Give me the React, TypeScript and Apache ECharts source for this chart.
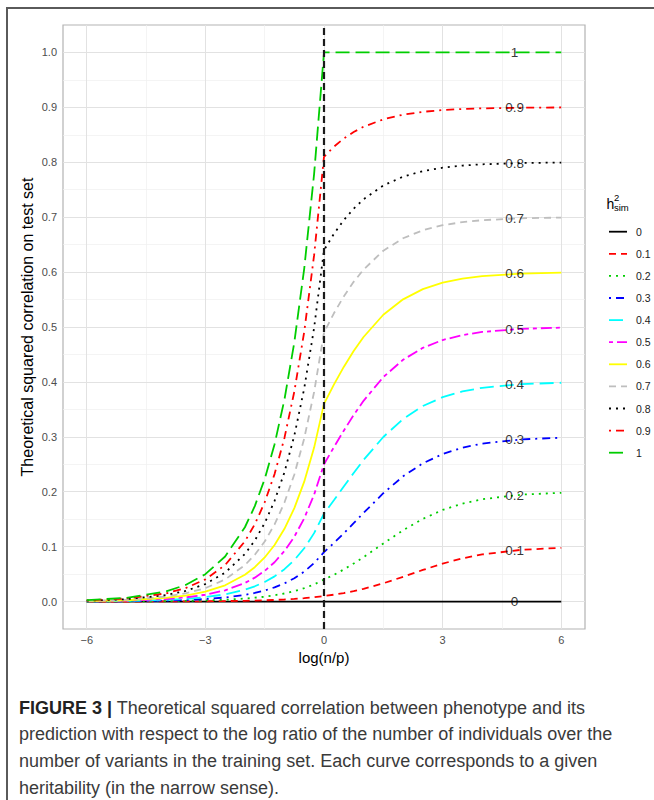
import React, { useEffect, useRef } from "react";
import * as echarts from "echarts";

// ---- data ----
const X = [-6, -5, -4, -3.5, -3, -2.5, -2, -1.75, -1.5, -1.25, -1, -0.75, -0.5, -0.25, 0, 0.25, 0.5, 0.75, 1, 1.5, 2, 2.5, 3, 3.5, 4, 5, 6];

const H00 = [0, 0, 0, 0, 0, 0, 0, 0, 0, 0, 0, 0, 0, 0, 0, 0, 0, 0, 0, 0, 0, 0, 0, 0, 0, 0, 0];
const H01 = [0.00002, 0.00007, 0.0002, 0.0003, 0.0005, 0.0008, 0.0014, 0.0017, 0.0022, 0.0029, 0.0037, 0.0047, 0.0061, 0.0078, 0.01, 0.0125, 0.0155, 0.019, 0.0232, 0.0332, 0.0451, 0.0575, 0.0691, 0.0786, 0.0858, 0.0943, 0.0978];
const H02 = [0.0001, 0.0003, 0.0007, 0.0012, 0.002, 0.0033, 0.0054, 0.007, 0.0089, 0.0115, 0.0147, 0.0189, 0.0243, 0.0312, 0.04, 0.0486, 0.0584, 0.0692, 0.0809, 0.1057, 0.1298, 0.1506, 0.1668, 0.1784, 0.1864, 0.1948, 0.198];
const H03 = [0.0002, 0.0006, 0.0016, 0.0027, 0.0045, 0.0074, 0.0122, 0.0156, 0.0201, 0.0258, 0.0331, 0.0425, 0.0546, 0.0701, 0.09, 0.1065, 0.1242, 0.1427, 0.1614, 0.1973, 0.228, 0.2518, 0.2687, 0.2803, 0.2877, 0.2954, 0.2983];
const H04 = [0.0004, 0.0011, 0.0029, 0.0048, 0.008, 0.0131, 0.0217, 0.0278, 0.0357, 0.0458, 0.0589, 0.0756, 0.097, 0.1246, 0.16, 0.1845, 0.2095, 0.2341, 0.2578, 0.2997, 0.3325, 0.3561, 0.3722, 0.3827, 0.3893, 0.396, 0.3985];
const H05 = [0.0006, 0.0017, 0.0046, 0.0076, 0.0124, 0.0205, 0.0338, 0.0435, 0.0558, 0.0716, 0.092, 0.1181, 0.1516, 0.1947, 0.25, 0.2811, 0.3112, 0.3396, 0.3655, 0.4088, 0.4404, 0.4621, 0.4763, 0.4853, 0.491, 0.4967, 0.4988];
const H06 = [0.0009, 0.0024, 0.0066, 0.0109, 0.0179, 0.0296, 0.0487, 0.0626, 0.0803, 0.1031, 0.1324, 0.1701, 0.2183, 0.2804, 0.36, 0.395, 0.4273, 0.4563, 0.4818, 0.5223, 0.5504, 0.5689, 0.5807, 0.5881, 0.5928, 0.5973, 0.599];
const H07 = [0.0012, 0.0033, 0.009, 0.0148, 0.0244, 0.0402, 0.0663, 0.0852, 0.1093, 0.1404, 0.1803, 0.2315, 0.2972, 0.3816, 0.49, 0.5249, 0.5556, 0.5822, 0.6046, 0.6389, 0.6616, 0.6762, 0.6854, 0.691, 0.6945, 0.698, 0.6993];
const H08 = [0.0016, 0.0043, 0.0117, 0.0193, 0.0319, 0.0525, 0.0866, 0.1112, 0.1428, 0.1834, 0.2354, 0.3023, 0.3882, 0.4984, 0.64, 0.6696, 0.6947, 0.7155, 0.7326, 0.7578, 0.7738, 0.7839, 0.7901, 0.794, 0.7963, 0.7987, 0.7995];
const H09 = [0.002, 0.0055, 0.0148, 0.0245, 0.0403, 0.0665, 0.1096, 0.1408, 0.1807, 0.2321, 0.298, 0.3826, 0.4913, 0.6308, 0.81, 0.8283, 0.8432, 0.8551, 0.8647, 0.8782, 0.8867, 0.8919, 0.8951, 0.897, 0.8982, 0.8993, 0.8998];
const H10 = [0.0025, 0.0067, 0.0183, 0.0302, 0.0498, 0.0821, 0.1353, 0.1738, 0.2231, 0.2865, 0.3679, 0.4724, 0.6065, 0.7788, 1, 1, 1, 1, 1, 1, 1, 1, 1, 1, 1, 1, 1];

const NAMES = ["0", "0.1", "0.2", "0.3", "0.4", "0.5", "0.6", "0.7", "0.8", "0.9", "1"];
const VALUES = [H00, H01, H02, H03, H04, H05, H06, H07, H08, H09, H10];

const LABEL_X = 4.82;
const LABEL_Y = [0, 0.0934, 0.1939, 0.2946, 0.3954, 0.4961, 0.5969, 0.6977, 0.7984, 0.8992, 1];

const X_TICKS = [-6, -3, 0, 3, 6];
const X_MINOR = [-4.5, -1.5, 1.5, 4.5];
const Y_TICKS = [0, 0.1, 0.2, 0.3, 0.4, 0.5, 0.6, 0.7, 0.8, 0.9, 1.0];
const Y_MINOR = [0.05, 0.15, 0.25, 0.35, 0.45, 0.55, 0.65, 0.75, 0.85, 0.95];

const CAPTION = [
  "{b|FIGURE 3 |} Theoretical squared correlation between phenotype and its",
  "prediction with respect to the log ratio of the number of individuals over the",
  "number of variants in the training set. Each curve corresponds to a given",
  "heritability (in the narrow sense).",
];

// ---- styles ----
const COLORS = ["#000000", "#FF0000", "#00CD00", "#0000FF", "#00FFFF", "#FF00FF", "#FFFF00", "#BEBEBE", "#000000", "#FF0000", "#00CD00"];
const SOLID = "solid";
const DASHED = [7, 5];
const DOTTED = [2, 5];
const DOTDASH = [2, 5, 8, 5];
const LONGDASH = [14, 6];
const TWODASH = [4, 4, 11, 4];
const TYPES: any[] = [SOLID, DASHED, DOTTED, DOTDASH, LONGDASH, TWODASH, SOLID, DASHED, DOTTED, DOTDASH, LONGDASH];

const FONT = "'Liberation Sans', Arial, Helvetica, sans-serif";

export default function App() {
  const ref = useRef<HTMLDivElement>(null);

  useEffect(() => {
    document.body.style.margin = "0";
    const chart = echarts.init(ref.current!, null, { renderer: "svg" });

    const curveSeries = NAMES.map((name, k) => ({
      type: "line",
      name,
      data: X.map((x, i) => [x, VALUES[k][i]]),
      symbol: "none",
      showSymbol: false,
      silent: true,
      z: 3,
      lineStyle: { color: COLORS[k], width: 1.8, type: TYPES[k], cap: "butt" },
      itemStyle: { color: COLORS[k] },
      emphasis: { disabled: true },
    }));

    const gridMajor = { color: "#E2E2E2", width: 1, type: "solid" };
    const gridMinor = { color: "#EFEFEF", width: 0.7, type: "solid" };

    const gridSeries = {
      type: "line",
      data: [[0, 0]],
      symbol: "none",
      lineStyle: { opacity: 0 },
      silent: true,
      z: 1,
      markLine: {
        silent: true,
        symbol: ["none", "none"],
        label: { show: false },
        z: 1,
        animation: false,
        lineStyle: { type: "solid" },
        emphasis: { disabled: true },
        data: [
          ...X_MINOR.map((v) => ({ xAxis: v, lineStyle: gridMinor })),
          ...Y_MINOR.map((v) => ({ yAxis: v, lineStyle: gridMinor })),
          ...X_TICKS.map((v) => ({ xAxis: v, lineStyle: gridMajor })),
          ...Y_TICKS.map((v) => ({ yAxis: v, lineStyle: gridMajor })),
        ],
      },
    };

    const vlineSeries = {
      type: "line",
      data: [[0, 0]],
      symbol: "none",
      lineStyle: { opacity: 0 },
      silent: true,
      z: 10,
      markLine: {
        silent: true,
        symbol: ["none", "none"],
        label: { show: false },
        z: 10,
        animation: false,
        emphasis: { disabled: true },
        lineStyle: { color: "#1a1a1a", width: 2.2, type: [7, 4] },
        data: [{ xAxis: 0 }],
      },
    };

    const labelSeries = {
      type: "scatter",
      data: NAMES.map((n, i) => ({ value: [LABEL_X, LABEL_Y[i]], name: n })),
      symbolSize: 1,
      itemStyle: { color: "transparent" },
      silent: true,
      z: 12,
      label: {
        show: true,
        position: "inside",
        formatter: "{b}",
        fontSize: 13.5,
        color: "#000",
        fontFamily: FONT,
      },
    };

    const legendItems: any[] = [];
    NAMES.forEach((n, i) => {
      const y = 231.7 + 22.1 * i;
      const t = TYPES[i];
      legendItems.push({
        type: "line",
        shape: { x1: 609, y1: y, x2: 627, y2: y },
        style: { stroke: COLORS[i], lineWidth: 1.8, lineDash: t === SOLID ? null : t, lineCap: "butt" },
      });
      legendItems.push({
        type: "text",
        x: 636,
        y,
        style: { text: n, fontSize: 10.5, fill: "#1a1a1a", fontFamily: FONT, align: "left", verticalAlign: "middle" },
      });
    });

    const graphics: any[] = [
      { type: "line", shape: { x1: 7, y1: 8, x2: 7, y2: 800 }, style: { stroke: "#5a5a5a", lineWidth: 2 } },
      { type: "line", shape: { x1: 6, y1: 8, x2: 654, y2: 8 }, style: { stroke: "#5a5a5a", lineWidth: 2 } },
      {
        type: "text", x: 324, y: 657,
        style: { text: "log(n/p)", fontSize: 15, fill: "#000", fontFamily: FONT, align: "center", verticalAlign: "middle" },
      },
      {
        type: "text", x: 27, y: 327, rotation: Math.PI / 2,
        style: { text: "Theoretical squared correlation on test set", fontSize: 16, fill: "#000", fontFamily: FONT, align: "center", verticalAlign: "middle" },
      },
      { type: "text", x: 606.5, y: 203.5, style: { text: "h", fontSize: 14, fill: "#000", fontFamily: FONT, align: "left", verticalAlign: "middle" } },
      { type: "text", x: 614, y: 197.5, style: { text: "2", fontSize: 9.5, fill: "#000", fontFamily: FONT, align: "left", verticalAlign: "middle" } },
      { type: "text", x: 614, y: 207.5, style: { text: "sim", fontSize: 9.5, fill: "#000", fontFamily: FONT, align: "left", verticalAlign: "middle" } },
      ...legendItems,
      ...CAPTION.map((t, i) => ({
        type: "text",
        x: 19,
        y: 707.5 + i * 26.7,
        style: {
          text: t,
          fontSize: 18,
          fill: "#3a3a3a",
          fontFamily: FONT,
          align: "left",
          verticalAlign: "middle",
          rich: { b: { fontSize: 18, fontWeight: "bold", fill: "#222", fontFamily: FONT } },
        },
      })),
    ];

    chart.setOption({
      animation: false,
      backgroundColor: "#ffffff",
      grid: {
        show: true,
        left: 63,
        top: 25,
        width: 522,
        height: 604,
        borderColor: "#B3B3B3",
        borderWidth: 1.2,
        backgroundColor: "#ffffff",
        containLabel: false,
      },
      xAxis: {
        type: "value",
        min: -6.6,
        max: 6.6,
        axisLine: { show: false },
        splitLine: { show: false },
        axisTick: { show: true, customValues: X_TICKS, length: 4, lineStyle: { color: "#B3B3B3", width: 1 } },
        axisLabel: {
          customValues: X_TICKS,
          color: "#4D4D4D",
          fontSize: 11,
          fontFamily: FONT,
          margin: 5,
          formatter: (v: number) => (v < 0 ? "\u2212" + Math.abs(v) : String(v)),
        },
      },
      yAxis: {
        type: "value",
        min: -0.05,
        max: 1.05,
        axisLine: { show: false },
        splitLine: { show: false },
        axisTick: { show: true, customValues: Y_TICKS, length: 4, lineStyle: { color: "#B3B3B3", width: 1 } },
        axisLabel: {
          customValues: Y_TICKS,
          color: "#4D4D4D",
          fontSize: 11,
          fontFamily: FONT,
          margin: 6,
          formatter: (v: number) => v.toFixed(1),
        },
      },
      graphic: graphics,
      series: [gridSeries, ...curveSeries, vlineSeries, labelSeries],
    });

    return () => chart.dispose();
  }, []);

  return <div ref={ref} style={{ width: 654, height: 800 }} />;
}
